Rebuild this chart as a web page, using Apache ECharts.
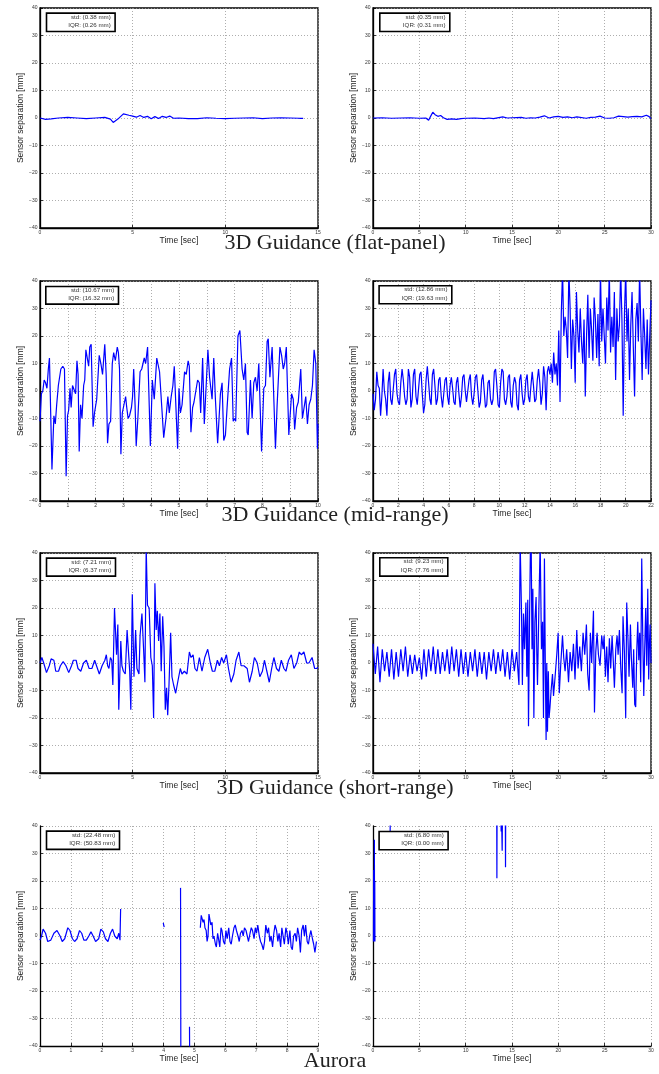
<!DOCTYPE html>
<html><head><meta charset="utf-8">
<script src="https://cdn.jsdelivr.net/npm/echarts@6/dist/echarts.min.js"></script>
<style>html,body{margin:0;padding:0;background:#fff}#c{width:659px;height:1074px}</style>
</head><body><div id="c"></div>
<script>
// ---------------- DATA ----------------
const titles = ['3D Guidance (flat-panel)', '3D Guidance (mid-range)', '3D Guidance (short-range)', 'Aurora'];
const xMaxes = [15, 30, 10, 22, 15, 30, 9, 30];
const xSteps = [5, 5, 1, 2, 5, 5, 1, 5];
const yTicks = [-40, -30, -20, -10, 0, 10, 20, 30, 40];
const stdText = ['std: (0.38 mm)', 'std: (0.35 mm)', 'std: (10.67 mm)', 'std: (12.86 mm)', 'std: (7.21 mm)', 'std: (9.23 mm)', 'std: (22.48 mm)', 'std: (6.80 mm)'];
const iqrText = ['IQR: (0.26 mm)', 'IQR: (0.31 mm)', 'IQR: (16.32 mm)', 'IQR: (19.63 mm)', 'IQR: (6.37 mm)', 'IQR: (7.76 mm)', 'IQR: (50.83 mm)', 'IQR: (0.00 mm)'];

const flatPanel15 = [[0,0],[0.3,-0.5],[0.6,-0.3],[1,0],[1.5,0.2],[2,0],[2.5,-0.2],[3,0],[3.5,0.2],[3.8,-0.4],[3.95,-1.6],[4.2,-0.4],[4.5,1.5],[4.8,1.0],[5.0,0.7],[5.2,0.3],[5.4,0.9],[5.6,0.2],[5.8,0.6],[6.0,-0.3],[6.2,0.5],[6.4,-0.2],[6.6,0.6],[6.8,0.2],[7.0,0.7],[7.2,-0.1],[7.5,0],[8,-0.2],[8.5,-0.2],[9,0.1],[9.5,-0.1],[10,-0.2],[10.5,-0.1],[11,0],[11.5,0.1],[12,-0.2],[12.5,0],[13,0.1],[13.5,0],[14,-0.1],[14.2,-0.1]];

const flatPanel30 = [[0,0],[1,0.1],[2,-0.1],[3,0],[4,0.1],[5,-0.1],[5.7,0],[6.0,-0.8],[6.2,0.5],[6.45,2.1],[6.7,1.2],[7.0,0.6],[7.3,0.9],[7.6,0.1],[8.0,-0.5],[8.5,-0.3],[9,-0.5],[9.5,-0.2],[10,-0.1],[11,0],[12,-0.2],[12.5,0],[13,-0.2],[14,0.4],[14.5,0],[15,0.1],[16,0.2],[16.5,-0.1],[17,0.1],[17.5,0],[18,0.3],[18.5,0.8],[19,0],[19.5,0.4],[20,0.6],[20.5,0.2],[21,0.4],[21.5,0.1],[22,0.4],[23,-0.1],[23.5,0.2],[24,0.3],[24.5,0.7],[25,0],[25.5,-0.1],[26,0.1],[26.5,0.7],[27,0.5],[27.5,0.3],[28,0.5],[28.5,0.6],[29,0.4],[29.5,1.0],[29.8,0.5],[30,-0.2]];

const midRange10 = [[0,-11],[0.05,-1],[0.1,0],[0.15,4],[0.2,3],[0.25,1],[0.3,8],[0.34,12],[0.39,12],[0.43,-28.5],[0.5,-9],[0.55,-12],[0.6,-5],[0.66,2],[0.71,2],[0.75,8],[0.82,9],[0.88,8],[0.94,-31],[0.99,-9],[1.03,-7],[1.08,1],[1.12,-6],[1.17,2],[1.24,2],[1.28,-1],[1.33,11],[1.37,6],[1.41,-22],[1.46,-5],[1.51,-10],[1.57,2],[1.61,4],[1.65,15],[1.7,12],[1.75,9],[1.79,16],[1.84,17],[1.91,-13],[1.96,-8],[2.04,-3],[2.13,13],[2.19,10],[2.25,6],[2.33,17],[2.38,6],[2.43,-19],[2.48,-12],[2.54,-11],[2.6,10],[2.65,14],[2.71,11],[2.78,16],[2.82,14],[2.86,8],[2.91,-23],[2.96,-8],[3.02,-8],[3.08,-2],[3.12,-6],[3.17,-10],[3.22,-9],[3.29,-6],[3.33,-2],[3.37,8],[3.42,-5],[3.46,-20],[3.52,-10],[3.6,7],[3.66,8],[3.75,12],[3.8,10],[3.87,16],[3.97,-20],[4.04,4],[4.11,-3],[4.2,12],[4.3,7],[4.36,7],[4.45,-17],[4.53,-10],[4.6,-2],[4.65,-8],[4.72,-2],[4.78,2],[4.83,9],[4.95,-21],[5.0,1],[5.05,-8],[5.11,-5],[5.2,7],[5.26,6],[5.33,11],[5.37,9],[5.43,-15],[5.49,-6],[5.54,-4],[5.61,-4],[5.67,4],[5.73,3],[5.78,-8],[5.85,12],[5.91,-12],[5.98,-12],[6.04,15],[6.1,5],[6.19,-3],[6.25,12],[6.31,-3],[6.39,-19],[6.49,-1],[6.55,3],[6.61,-18],[6.67,-16],[6.73,-6],[6.82,8],[6.89,12],[6.95,-11],[7.0,-10],[7.04,-11],[7.12,20],[7.19,22],[7.27,8],[7.33,4],[7.39,10],[7.45,-15],[7.49,-16],[7.57,4],[7.63,-10],[7.69,3],[7.75,5],[7.81,0],[7.87,10],[7.97,-22],[8.05,1],[8.11,2],[8.17,18],[8.21,19],[8.27,5],[8.35,16],[8.47,-21],[8.53,-5],[8.63,16],[8.69,13],[8.75,8],[8.8,10],[8.86,16],[8.95,-16],[8.99,-16],[9.05,-1],[9.11,-3],[9.16,-14],[9.23,-6],[9.29,-4],[9.38,8],[9.44,-10],[9.5,-10],[9.56,-2],[9.62,-12],[9.68,-5],[9.74,-3],[9.8,2],[9.86,15],[9.92,10],[9.98,-21],[10,-12]];

const midRange22 = [[0,-1],[0.1,-7],[0.2,-3],[0.3,7],[0.4,2],[0.5,1],[0.6,-9],[0.7,-2],[0.8,8],[0.9,0],[1.0,-3],[1.1,-9],[1.2,3],[1.3,7],[1.4,-3],[1.5,-5],[1.6,-5],[1.7,6],[1.8,8],[1.9,-1],[2.0,-4],[2.1,-5],[2.2,3],[2.3,8],[2.4,4],[2.5,-2],[2.6,-5],[2.7,-3],[2.8,8],[2.9,5],[3.0,-6],[3.1,-3],[3.2,6],[3.3,8],[3.4,-2],[3.5,-5],[3.6,-5],[3.7,6],[3.8,7],[3.9,-1],[4.0,-8],[4.1,-5],[4.2,4],[4.3,9],[4.4,3],[4.5,-3],[4.6,-5],[4.7,6],[4.8,8],[4.9,2],[5.0,-5],[5.1,-3],[5.2,4],[5.3,5],[5.4,-2],[5.5,-6],[5.6,-1],[5.7,4],[5.8,5],[5.9,-2],[6.0,-5],[6.1,2],[6.2,5],[6.3,1],[6.4,-4],[6.5,-5],[6.6,3],[6.7,5],[6.8,-1],[6.9,-6],[7.0,-2],[7.1,5],[7.2,6],[7.3,0],[7.4,-4],[7.5,-4],[7.6,4],[7.7,6],[7.8,-2],[7.9,-5],[8.0,-1],[8.1,5],[8.2,6],[8.3,0],[8.4,-6],[8.5,-4],[8.6,4],[8.7,6],[8.8,0],[8.9,-6],[9.0,-5],[9.1,3],[9.2,4],[9.3,-3],[9.4,-5],[9.5,-3],[9.6,7],[9.7,8],[9.8,2],[9.9,-5],[10.0,-6],[10.1,3],[10.2,8],[10.3,7],[10.4,-3],[10.5,-5],[10.6,-2],[10.7,5],[10.8,6],[10.9,-4],[11.0,-6],[11.1,2],[11.2,5],[11.3,3],[11.4,-5],[11.5,-7],[11.6,4],[11.7,6],[11.8,-1],[11.9,-5],[12.0,-3],[12.1,4],[12.2,6],[12.3,-2],[12.4,-4],[12.5,2],[12.6,7],[12.7,2],[12.8,-4],[12.9,-3],[13.0,4],[13.1,8],[13.2,3],[13.3,-5],[13.4,-1],[13.5,9],[13.6,5],[13.7,-7],[13.8,7],[13.9,9],[14.0,6],[14.1,10],[14.2,3],[14.3,14],[14.4,6],[14.5,10],[14.6,2],[14.7,22],[14.8,-4],[14.9,28],[15.0,44],[15.1,20],[15.2,27],[15.3,22],[15.4,12],[15.5,44],[15.6,30],[15.7,8],[15.8,26],[15.9,20],[16.0,3],[16.1,36],[16.2,22],[16.3,14],[16.4,30],[16.5,18],[16.6,10],[16.7,26],[16.8,-2],[16.9,20],[17.0,35],[17.1,12],[17.2,30],[17.3,22],[17.4,11],[17.5,34],[17.6,26],[17.7,12],[17.8,28],[17.9,9],[18.0,44],[18.1,18],[18.2,30],[18.3,20],[18.4,10],[18.5,34],[18.6,22],[18.7,44],[18.8,14],[18.9,27],[19.0,16],[19.1,36],[19.2,4],[19.3,30],[19.4,18],[19.5,24],[19.6,44],[19.7,26],[19.8,-9],[19.9,28],[20.0,44],[20.1,18],[20.2,30],[20.3,4],[20.4,24],[20.5,36],[20.6,16],[20.7,-2],[20.8,26],[20.9,32],[21.0,18],[21.1,44],[21.2,22],[21.3,4],[21.4,30],[21.5,20],[21.6,8],[21.7,26],[21.8,6],[21.9,20],[22.0,33]];

const shortRange15 = [[0,0],[0.1,2],[0.2,0],[0.35,-3.5],[0.5,-1],[0.6,1.5],[0.75,1],[0.85,-3],[1.0,-3],[1.1,-1],[1.25,0.5],[1.4,-1],[1.55,-3.5],[1.7,-1],[1.8,1],[1.95,1],[2.05,-2],[2.2,-3],[2.35,0],[2.5,1],[2.65,-2],[2.8,-2],[2.95,1],[3.05,1],[3.2,-4],[3.35,-1],[3.5,1],[3.58,3],[3.65,-1],[3.72,-2],[3.8,2],[3.87,1],[3.93,-8],[4.02,20],[4.13,3],[4.2,14],[4.25,-17],[4.36,8],[4.42,-1],[4.5,-3],[4.6,-4],[4.7,12],[4.78,12],[4.84,-3],[4.9,-17],[4.98,25],[5.07,-5],[5.16,12],[5.23,-2],[5.34,-4],[5.4,10],[5.5,18],[5.59,5],[5.66,-7],[5.73,42],[5.8,21],[5.89,20],[5.98,2],[6.06,-1],[6.13,-20],[6.2,29],[6.27,12],[6.33,19],[6.4,8],[6.47,18],[6.54,-3],[6.62,17],[6.69,6],[6.76,-17],[6.83,-9],[6.89,-19],[6.96,-8],[7.05,11],[7.12,-5],[7.21,-8],[7.32,-11],[7.43,-7],[7.57,-2],[7.66,-4],[7.79,-3],[7.93,-4],[8.06,4],[8.15,2],[8.26,3],[8.36,-2],[8.47,-3],[8.6,2],[8.74,-3],[8.89,2],[9.05,5],[9.19,0],[9.3,-3],[9.43,-3],[9.57,1],[9.68,-1],[9.8,2],[9.91,0],[10.06,3],[10.17,-2],[10.31,-7],[10.46,-4],[10.58,1],[10.73,4],[10.85,-1],[11.0,-1],[11.18,-2],[11.3,-7],[11.45,-3],[11.57,2],[11.72,0],[11.86,-5],[12.0,-3],[12.11,1],[12.24,-3],[12.37,-7],[12.5,-2],[12.62,2],[12.76,-2],[12.89,-3],[13.02,1],[13.16,-2],[13.27,-3],[13.41,1],[13.56,3],[13.7,-2],[13.85,0],[13.99,4],[14.1,3],[14.24,4],[14.39,0],[14.51,0],[14.68,2],[14.82,-2],[14.93,-2],[15,-1.5]];

const shortRange30 = [[0,7],[0.25,-4],[0.5,6],[0.75,-7],[1.0,5],[1.25,-3],[1.5,4],[1.75,-5],[2.0,5],[2.25,-6],[2.5,4],[2.75,-5],[3.0,5],[3.25,-3],[3.5,6],[3.75,-5],[4.0,3],[4.25,-4],[4.5,3],[4.75,-3],[5.0,2],[5.25,-6],[5.5,5],[5.75,-5],[6.0,5],[6.25,-3],[6.5,6],[6.75,-4],[7.0,5],[7.25,-4],[7.5,4],[7.75,-3],[8.0,5],[8.25,-4],[8.5,6],[8.75,-3],[9.0,5],[9.25,-5],[9.5,5],[9.75,-4],[10.0,4],[10.25,-5],[10.5,4],[10.75,-3],[11.0,5],[11.25,-5],[11.5,4],[11.75,-4],[12.0,4],[12.25,-6],[12.5,4],[12.75,-3],[13.0,5],[13.25,-4],[13.5,4],[13.75,-3],[14.0,5],[14.25,-5],[14.5,4],[14.75,-6],[15.0,5],[15.25,-3],[15.5,4],[15.75,-8],[15.88,44],[16.03,18],[16.12,-8],[16.24,18],[16.35,5],[16.5,22],[16.6,-5],[16.7,23],[16.78,-23],[16.9,18],[16.98,40],[17.07,44],[17.16,5],[17.25,27],[17.36,-20],[17.47,15],[17.6,24],[17.68,3],[17.75,-8],[17.9,20],[18.04,44],[18.18,5],[18.3,15],[18.4,-20],[18.5,38],[18.6,-3],[18.68,-28],[18.75,0],[18.83,-25],[18.92,-3],[19.0,-20],[19.1,-16],[19.22,-10],[19.37,-4],[19.48,-12],[19.65,-5],[19.83,3],[19.98,11],[20.1,-11],[20.27,0],[20.45,10],[20.58,2],[20.73,-3],[20.9,5],[21.1,-7],[21.27,4],[21.45,-3],[21.63,7],[21.8,-6],[21.99,12],[22.13,-2],[22.31,6],[22.49,-3],[22.67,11],[22.85,3],[23.03,14],[23.17,-4],[23.32,-10],[23.46,11],[23.6,0],[23.79,19],[23.9,-18],[24.04,4],[24.18,11],[24.33,3],[24.5,-1],[24.68,10],[24.83,5],[24.94,10],[25.08,-5],[25.22,6],[25.36,-7],[25.51,9],[25.65,-2],[25.8,10],[25.94,0],[26.05,-9],[26.2,5],[26.34,10],[26.45,3],[26.59,12],[26.74,-2],[26.88,-11],[26.98,17],[27.13,4],[27.27,-20],[27.38,22],[27.52,8],[27.63,-5],[27.78,14],[27.88,2],[28.03,-9],[28.13,5],[28.24,-15],[28.35,-16],[28.46,4],[28.57,15],[28.68,1],[28.78,11],[28.89,-7],[29.0,38],[29.11,10],[29.22,-12],[29.32,5],[29.43,20],[29.54,-1],[29.65,27],[29.75,-6],[29.82,5],[29.9,14],[30,0]];

// '-' marks a gap (no samples) in the record
const aurora9 = [[0,-1.5],[0.05,0],[0.1,2.5],[0.18,1],[0.25,-2],[0.35,-1.5],[0.45,1],[0.55,2],[0.65,0],[0.72,-2],[0.8,-1],[0.9,3],[0.97,2],[1.05,-1],[1.12,-2],[1.2,-1],[1.28,2],[1.35,1],[1.42,-1.5],[1.5,-1.5],[1.58,0],[1.65,1.5],[1.72,0],[1.8,-2],[1.9,-1],[1.97,2.5],[2.05,1.5],[2.12,-1],[2.2,-2],[2.28,1],[2.35,2.5],[2.42,0],[2.5,-1],[2.55,1],[2.59,-1.5],[2.61,9.8],[3.0,'-'],[3.99,4.8],[4.02,3.2],[4.3,'-'],[4.55,17.5],[4.56,-45],[4.7,'-'],[4.84,-33],[4.845,-45],[5.0,'-'],[5.19,3],[5.22,7.5],[5.28,5],[5.31,6],[5.34,3],[5.38,2],[5.41,-2],[5.44,0],[5.47,8],[5.5,6],[5.53,4],[5.57,5],[5.6,-1],[5.63,0],[5.68,-3],[5.71,-4],[5.75,1],[5.78,-1],[5.82,-4],[5.86,3],[5.89,2],[5.94,-2],[5.98,-3],[6.02,2],[6.06,-1],[6.11,3],[6.15,-2],[6.19,-3],[6.23,0],[6.28,3],[6.32,4],[6.36,2],[6.41,0],[6.45,-2],[6.49,1],[6.54,2],[6.58,0],[6.62,3],[6.67,2],[6.71,0],[6.75,-2],[6.8,1],[6.84,3],[6.88,2],[6.93,-1],[6.97,3],[7.01,1],[7.05,4],[7.1,0],[7.14,-2],[7.18,-3],[7.23,-5],[7.27,-2],[7.31,4],[7.36,1],[7.4,3],[7.44,-2],[7.48,0],[7.53,-4],[7.57,1],[7.61,4],[7.66,2],[7.7,-2],[7.74,1],[7.79,-4],[7.83,3],[7.87,0],[7.91,-3],[7.96,3],[8.0,1],[8.04,-3],[8.09,2],[8.13,-4],[8.17,-5],[8.21,0],[8.26,1],[8.3,-2],[8.34,3],[8.39,0],[8.43,-6],[8.47,2],[8.52,4],[8.56,0],[8.6,4],[8.65,-2],[8.69,-3],[8.73,0],[8.77,2],[8.82,-1],[8.86,-3],[8.9,-6],[8.95,-2]];

const aurora30 = [[0.05,-2],[0.07,24],[0.09,-1],[0.11,22],[0.13,-2],[0.15,35],[0.17,0],[0.19,20],[0.21,-2],[1,'-'],[1.85,38],[1.87,45],[3,'-'],[13.35,45],[13.37,21],[13.39,45],[13.6,'-'],[13.8,45],[13.83,38],[13.86,45],[13.9,38.5],[13.94,31],[13.97,45],[14.1,'-'],[14.28,45],[14.3,25],[14.32,45]];

const seriesData = [flatPanel15, flatPanel30, midRange10, midRange22, shortRange15, shortRange30, aurora9, aurora30];

// ---------------- LAYOUT ----------------
const colX = [40, 373], rowY = [8, 281, 553, 826], GW = 278, GH = 220;
const titleY = [243.6, 515.6, 788.6, 1061.6];
const showBox = [true, true, true, true, true, true, false, false];
const legendBoxes = [[5.7,4.3,68.6,18.4],[6,4.3,70,18.4],[5,4.7,72.7,17.6],[5.3,4,72.7,18],[5.7,4.3,69,18],[6,4,68,18.3],[5.7,4.3,73,18.3],[5.3,4.7,69,18.3]];

const fontSans = '"Liberation Sans", Arial, sans-serif';
const grids = [], xAxes = [], yAxes = [], series = [], graphics = [];
const minus = v => String(v).replace('-', '\u2212');

for (let i = 0; i < 8; i++) {
  const gx = colX[i % 2], gy = rowY[Math.floor(i / 2)];
  grids.push({ left: gx, top: gy, width: GW, height: GH, show: showBox[i], borderColor: '#000', borderWidth: 1.3, backgroundColor: 'transparent', containLabel: false });
  xAxes.push({
    gridIndex: i, type: 'value', min: 0, max: xMaxes[i], interval: xSteps[i],
    name: 'Time [sec]', nameLocation: 'middle', nameGap: 6,
    nameTextStyle: { fontFamily: fontSans, fontSize: 8.5, color: '#222', verticalAlign: 'top' },
    axisLine: { onZero: false, lineStyle: { color: '#000', width: 1.3 } },
    axisTick: { inside: true, length: 3, lineStyle: { color: '#000', width: 0.8 } },
    axisLabel: { fontFamily: fontSans, fontSize: 5, color: '#333', margin: 2.5, formatter: minus },
    splitLine: { show: true, lineStyle: { color: '#999', width: 0.8, type: [1, 2] } }
  });
  yAxes.push({
    gridIndex: i, type: 'value', min: yTicks[0], max: yTicks[yTicks.length - 1], interval: 10,
    name: 'Sensor separation [mm]', nameLocation: 'middle', nameGap: 14,
    nameTextStyle: { fontFamily: fontSans, fontSize: 8.5, color: '#222' },
    axisLine: { onZero: false, lineStyle: { color: '#000', width: 1.3 } },
    axisTick: { inside: true, length: 3, lineStyle: { color: '#000', width: 0.8 } },
    axisLabel: { fontFamily: fontSans, fontSize: 5, color: '#333', margin: 2.5, formatter: minus },
    splitLine: { show: true, lineStyle: { color: '#999', width: 0.8, type: [1, 2] } }
  });
  series.push({
    type: 'line', xAxisIndex: i, yAxisIndex: i, data: seriesData[i],
    showSymbol: false, symbol: 'none', connectNulls: false, clip: true,
    lineStyle: { color: '#0000ff', width: 1.2 }, z: 3
  });
  const b = legendBoxes[i];
  graphics.push({ type: 'rect', left: gx + b[0], top: gy + b[1], z: 10,
    shape: { width: b[2], height: b[3] }, style: { fill: '#fff', stroke: '#000', lineWidth: 1.6 } });
  graphics.push({ type: 'text', x: gx + b[0] + b[2] - 3.5, y: gy + b[1] + 4.6, z: 11,
    style: { text: stdText[i], font: '6.2px ' + fontSans, fill: '#333', align: 'right', verticalAlign: 'middle' } });
  graphics.push({ type: 'text', x: gx + b[0] + b[2] - 3.5, y: gy + b[1] + 12.8, z: 11,
    style: { text: iqrText[i], font: '6.2px ' + fontSans, fill: '#333', align: 'right', verticalAlign: 'middle' } });
}
for (let r = 0; r < 4; r++) {
  graphics.push({ type: 'text', x: 335, y: titleY[r], z: 12,
    style: { text: titles[r], font: '22px "Liberation Serif", "Times New Roman", serif', fill: '#222', align: 'center', verticalAlign: 'middle' } });
}

const chart = echarts.init(document.getElementById('c'), null, { renderer: 'canvas' });
chart.setOption({
  animation: false, backgroundColor: '#fff',
  grid: grids, xAxis: xAxes, yAxis: yAxes, series: series, graphic: graphics
});
</script></body></html>
